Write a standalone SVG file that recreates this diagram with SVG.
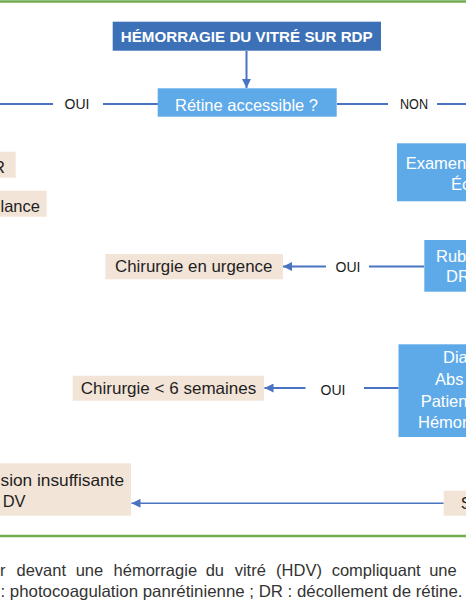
<svg xmlns="http://www.w3.org/2000/svg" width="466" height="600" viewBox="0 0 466 600">
<style>
.t{font-family:"Liberation Sans",Arial,sans-serif;font-size:16.5px}
.w{fill:#ffffff}
.k{fill:#1e1e1e}
.lbl{font-family:"Liberation Sans",Arial,sans-serif;font-size:14px;fill:#1a1a1a}
.dark{fill:#3c70b7}
.light{fill:#5eaae9}
.beige{fill:#f3e4d8}
.c{stroke:#4a74c1;stroke-width:2;fill:none}
.cap{font-family:"Liberation Sans",Arial,sans-serif;font-size:16.5px;fill:#333333}
.g{stroke:#6fab4f;stroke-width:2.5}
</style>
<defs>
<marker id="ah" viewBox="0 0 10 10" refX="10" refY="5" markerWidth="10" markerHeight="9" markerUnits="userSpaceOnUse" orient="auto">
<path d="M0,0 L10,5 L0,10 z" fill="#4a74c1"/>
</marker>
</defs>
<rect width="466" height="600" fill="#ffffff"/>
<line class="g" x1="0" y1="1.5" x2="466" y2="1.5"/>
<line class="g" x1="0" y1="536" x2="466" y2="536"/>

<g id="connectors">
<line class="c" x1="246.5" y1="51" x2="246.5" y2="88" marker-end="url(#ah)"/>
<line class="c" x1="0" y1="104" x2="53" y2="104"/>
<line class="c" x1="103" y1="104" x2="158" y2="104"/>
<line class="c" x1="337" y1="104" x2="388" y2="104"/>
<line class="c" x1="437" y1="104" x2="466" y2="104"/>
<line class="c" x1="424" y1="266.5" x2="369" y2="266.5"/>
<line class="c" x1="326" y1="266.5" x2="283" y2="266.5" marker-end="url(#ah)"/>
<line class="c" x1="398.5" y1="388" x2="364" y2="388"/>
<line class="c" x1="305.5" y1="388" x2="264.5" y2="388" marker-end="url(#ah)"/>
<line class="c" style="stroke-width:1.6" x1="443.7" y1="503.3" x2="131.5" y2="503.3" marker-end="url(#ah)"/>
<text class="lbl" x="77" y="108.5" text-anchor="middle">OUI</text>
<text class="lbl" x="414" y="108.5" text-anchor="middle" textLength="28" lengthAdjust="spacingAndGlyphs">NON</text>
<text class="lbl" x="348" y="271.5" text-anchor="middle">OUI</text>
<text class="lbl" x="333" y="395" text-anchor="middle">OUI</text>
</g>

<g id="n-title">
<rect class="dark" x="112.7" y="21.7" width="268.3" height="29"/>
<text class="w" x="120.7" y="42.3" font-family="Liberation Sans, Arial, sans-serif" font-size="15.5" font-weight="bold" textLength="252" lengthAdjust="spacingAndGlyphs">HÉMORRAGIE DU VITRÉ SUR RDP</text>
</g>

<g id="n-retine">
<rect class="light" x="157.7" y="88.3" width="179" height="28.4"/>
<text class="t w" x="175" y="110.5" textLength="143" lengthAdjust="spacingAndGlyphs">Rétine accessible ?</text>
</g>

<g id="n-r">
<rect class="beige" x="0" y="151.7" width="15.7" height="26"/>
<text class="t k" x="5" y="172.7" text-anchor="end">R</text>
</g>

<g id="n-lance">
<rect class="beige" x="0" y="190.7" width="46.7" height="26"/>
<text class="t k" x="0.5" y="211.7">lance</text>
</g>

<g id="n-examen">
<rect class="light" x="397" y="143.3" width="69" height="58"/>
<text class="t w" x="405.7" y="169.3">Examen</text>
<text class="t w" x="451" y="190">Éc</text>
</g>

<g id="n-chir-urg">
<rect class="beige" x="105.3" y="254" width="177.7" height="25.3"/>
<text class="t k" x="115" y="272" textLength="157.3" lengthAdjust="spacingAndGlyphs">Chirurgie en urgence</text>
</g>

<g id="n-rubeose">
<rect class="light" x="424.3" y="240" width="41.7" height="51.7"/>
<text class="t w" x="436" y="261.7">Rub</text>
<text class="t w" x="446" y="282">DR</text>
</g>

<g id="n-diag">
<rect class="light" x="398.5" y="344.3" width="67.5" height="92.7"/>
<text class="t w" x="443" y="363">Dia</text>
<text class="t w" x="435" y="385">Abs</text>
<text class="t w" x="420.7" y="406.7">Patien</text>
<text class="t w" x="418" y="427.7">Hémor</text>
</g>

<g id="n-chir-6">
<rect class="beige" x="72.7" y="375.7" width="191.3" height="25"/>
<text class="t k" x="80.7" y="393.5" textLength="175.6" lengthAdjust="spacingAndGlyphs">Chirurgie &lt; 6 semaines</text>
</g>

<g id="n-vision">
<rect class="beige" x="0" y="463.3" width="131" height="52.4"/>
<text class="t k" x="0.5" y="485.7" textLength="123.5" lengthAdjust="spacingAndGlyphs">sion insuffisante</text>
<text class="t k" x="2.7" y="506.7">DV</text>
</g>

<g id="n-s">
<rect class="beige" x="443.7" y="490.7" width="22.3" height="25"/>
<text class="t k" x="460.7" y="509">S</text>
</g>

<g id="caption">
<text class="cap" y="576"><tspan x="0">r</tspan><tspan x="16.5">devant</tspan><tspan x="75.7">une</tspan><tspan x="113.6">hémorragie</tspan><tspan x="205.7">du</tspan><tspan x="234.7">vitré</tspan><tspan x="276.1">(HDV)</tspan><tspan x="331.7">compliquant</tspan><tspan x="429.2">une</tspan></text>
<text class="cap" x="0.5" y="596.5" textLength="462" lengthAdjust="spacingAndGlyphs">: photocoagulation panrétinienne ; DR : décollement de rétine.</text>
</g>
</svg>
